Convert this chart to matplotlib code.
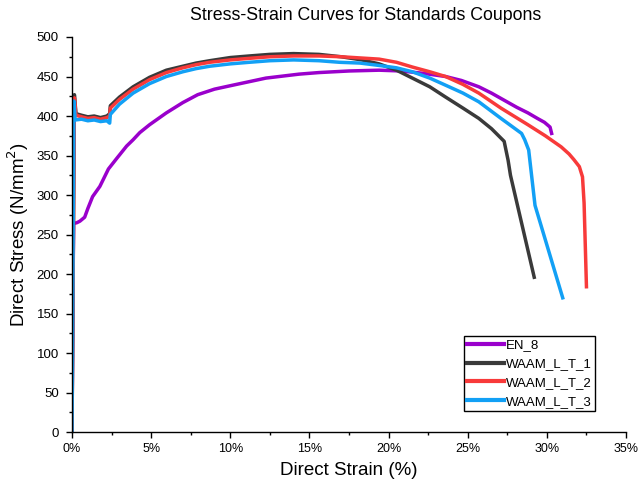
import matplotlib
matplotlib.use("Agg")
import matplotlib.pyplot as plt
from matplotlib.ticker import MultipleLocator, FuncFormatter

plt.rcParams["font.family"] = ["Liberation Sans", "DejaVu Sans"]

# strain (%) / stress (N/mm^2) for each coupon
en8_strain = [0, 0.05, 0.1, 0.3, 0.5, 0.8, 1.0, 1.3, 1.76, 2.3, 2.81, 3.45, 3.86, 4.28, 4.9,
              5.96, 7.0, 7.94, 9.0, 10.15, 12.25, 14.34, 15.6, 17.5, 19.4, 20.8, 22.2, 23.6,
              24.6, 25.7, 26.5, 27.3, 28.1, 28.8, 29.4, 29.85, 30.2, 30.3]
en8_stress = [0, 150, 264, 265, 267, 272, 283, 298, 311, 333, 346, 362, 370, 379, 389,
              404, 417, 427, 434, 439, 448, 453, 455, 457, 458, 457, 454, 450,
              445, 437, 429, 420, 411, 404, 397, 392, 386, 378]

t1_strain = [0, 0.15, 0.25, 0.6, 1.0, 1.4, 1.8, 2.2, 2.38, 2.42, 3.0, 3.86, 4.9, 5.96, 7.0,
             7.84, 8.7, 10, 11.2, 12.5, 14, 15.6, 17, 18.3, 19.4, 20.5, 21.5, 22.6, 23.6,
             24.7, 25.7, 26.5, 27.1, 27.3, 27.55, 27.7, 29.2]
t1_stress = [0, 427, 403, 401, 399, 400, 398, 400, 403, 413, 424, 437, 449, 458, 463,
             467, 470, 474, 476, 478, 479, 478, 475, 471, 466, 458, 448, 437, 424,
             410, 397, 384, 372, 368, 344, 325, 196]

t2_strain = [0, 0.15, 0.25, 0.6, 1.0, 1.4, 1.8, 2.2, 2.38, 2.42, 3.0, 3.86, 4.9, 5.96, 7.0,
             7.84, 8.7, 10, 11.2, 12.5, 14, 15.6, 17, 19.4, 20.5, 21.5, 22.6, 23.6, 24.7,
             25.7, 27.1, 28.8, 29.9, 30.9, 31.4, 31.7, 32.05, 32.25, 32.35, 32.5]
t2_stress = [0, 423, 401, 399, 397, 398, 396, 398, 400, 410, 421, 434, 446, 455, 461,
             465, 468, 471, 473, 475, 476, 476, 475, 472, 468, 462, 456, 450, 440,
             429, 410, 389, 375, 361, 352, 345, 336, 323, 290, 184]

t3_strain = [0, 0.12, 0.2, 0.6, 1.0, 1.4, 1.8, 2.2, 2.38, 2.42, 3.0, 3.86, 4.9, 5.96, 7.0,
             7.84, 8.7, 10, 11.2, 12.5, 14, 15.6, 16.9, 18.2, 19.4, 20.5, 21.5, 22.6, 23.6,
             24.7, 25.7, 27.1, 28.4, 28.6, 28.85, 29.25, 31.0]
t3_stress = [0, 419, 395, 396, 394, 395, 393, 394, 391, 402, 415, 429, 441, 450, 456,
             460, 463, 466, 468, 470, 471, 470, 468, 467, 464, 461, 456, 448, 439,
             429, 418, 397, 378, 370, 357, 287, 170]

series = [
    ("EN_8", en8_strain, en8_stress, "#9a00cc"),
    ("WAAM_L_T_1", t1_strain, t1_stress, "#3a3a3a"),
    ("WAAM_L_T_2", t2_strain, t2_stress, "#f83a3a"),
    ("WAAM_L_T_3", t3_strain, t3_stress, "#12a0f5"),
]

fig = plt.figure(figsize=(6.39, 4.90), dpi=100)
ax = fig.add_axes([0.1127, 0.118, 0.8670, 0.8065])

for name, x, y, c in series:
    ax.plot(x, y, color=c, lw=2.5, label=name, solid_joinstyle="round")

ax.set_xlim(0, 35)
ax.set_ylim(0, 500)
ax.xaxis.set_major_locator(MultipleLocator(5))
ax.xaxis.set_minor_locator(MultipleLocator(2.5))
ax.yaxis.set_major_locator(MultipleLocator(50))
ax.yaxis.set_minor_locator(MultipleLocator(25))
ax.xaxis.set_major_formatter(FuncFormatter(lambda v, p: f"{v:.0f}%"))

ax.spines["top"].set_visible(False)
ax.spines["right"].set_visible(False)
for s in ("left", "bottom"):
    ax.spines[s].set_linewidth(1.0)
ax.tick_params(which="major", direction="out", length=4.5, width=1.0, labelsize=9.5, pad=3)
ax.tick_params(which="minor", direction="out", length=2.5, width=1.0)
ax.tick_params(axis="x", which="major", labelsize=9)
ax.tick_params(axis="y", which="major", pad=5)

ax.set_xlabel("Direct Strain (%)", fontsize=13.5, labelpad=5)
ax.set_ylabel("Direct Stress (N/mm$^2$)", fontsize=13.5, labelpad=4)
ax.set_title("Stress-Strain Curves for Standards Coupons", fontsize=12.8, x=0.53, pad=12)

leg = ax.legend(loc="lower right", bbox_to_anchor=(0.944, 0.053), fontsize=9.5,
                frameon=True, fancybox=False, framealpha=1, edgecolor="black",
                handlelength=2.8, handletextpad=0.15, borderpad=0.25,
                labelspacing=0.5, borderaxespad=0)
leg.get_frame().set_linewidth(1.0)
for line in leg.get_lines():
    line.set_linewidth(3)

fig.savefig("out.png", dpi=100)
